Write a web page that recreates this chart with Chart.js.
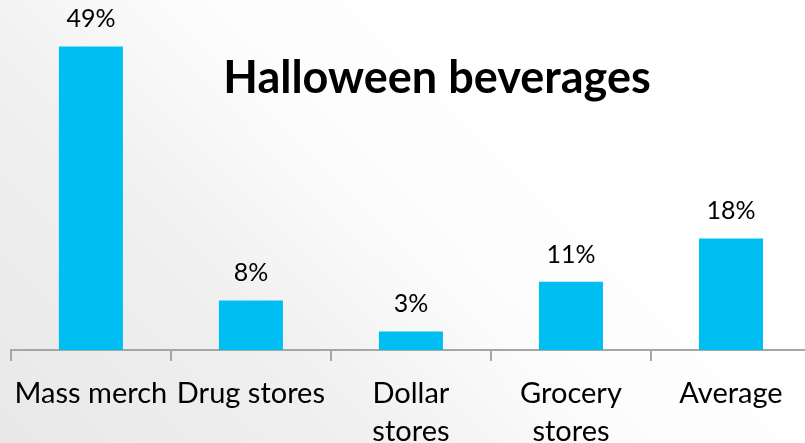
<!DOCTYPE html>
<html>
<head>
<meta charset="utf-8">
<script src="https://cdn.jsdelivr.net/npm/chart.js@4/dist/chart.umd.min.js"></script>
<style>
  html, body { margin: 0; padding: 0; }
  body { width: 805px; height: 443px; overflow: hidden; }
  #wrap {
    position: relative; width: 805px; height: 443px; overflow: hidden;
    background: linear-gradient(45deg, #e8e8e8 0%, #f0f0f0 30%, #fcfcfc 50%, #ffffff 70%);
  }
  #chart { position: absolute; left: 0; top: 0; }
</style>
</head>
<body>
<div id="wrap"><canvas id="chart" width="815" height="443"></canvas></div>
<script>
const categories = ['Mass merch', 'Drug stores', ['Dollar', 'stores'], ['Grocery', 'stores'], 'Average'];
const shares = [49, 8, 3, 11, 18];
const chartTitle = 'Halloween beverages';

const FONT = 'Lato, "Open Sans", sans-serif';

// values above each bar plus the title, drawn straight on the canvas
const overlayText = {
  id: 'overlayText',
  afterDatasetsDraw(chart) {
    const ctx = chart.ctx;
    const meta = chart.getDatasetMeta(0);
    ctx.save();
    ctx.fillStyle = '#000';
    ctx.textAlign = 'center';
    ctx.textBaseline = 'alphabetic';
    ctx.font = '25px ' + FONT;
    meta.data.forEach((bar, i) => {
      ctx.fillText(shares[i] + '%', bar.x, bar.y - 19);
    });
    ctx.font = 'bold 45px ' + FONT;
    ctx.fillText(chartTitle, 437, 93);
    ctx.restore();
  }
};

new Chart(document.getElementById('chart'), {
  type: 'bar',
  data: {
    labels: categories,
    datasets: [{
      data: shares,
      backgroundColor: '#00bef2',
      barPercentage: 0.4,
      categoryPercentage: 1
    }]
  },
  options: {
    responsive: false,
    animation: false,
    layout: { padding: { left: 6, right: 4, top: 0, bottom: 0 } },
    plugins: { legend: { display: false }, tooltip: { enabled: false } },
    scales: {
      x: {
        afterFit: (scale) => { scale.height = 93; },
        border: { display: true, color: '#a6a6a6', width: 2 },
        grid: { drawOnChartArea: false, drawTicks: true, tickLength: 11, color: '#a6a6a6', lineWidth: 2, offset: true },
        ticks: {
          color: '#000',
          font: { family: FONT, size: 29, lineHeight: 1.3 },
          padding: 14,
          maxRotation: 0,
          autoSkip: false
        }
      },
      y: { display: false, min: 0, max: 56.5 }
    }
  },
  plugins: [overlayText]
});
</script>
</body>
</html>
